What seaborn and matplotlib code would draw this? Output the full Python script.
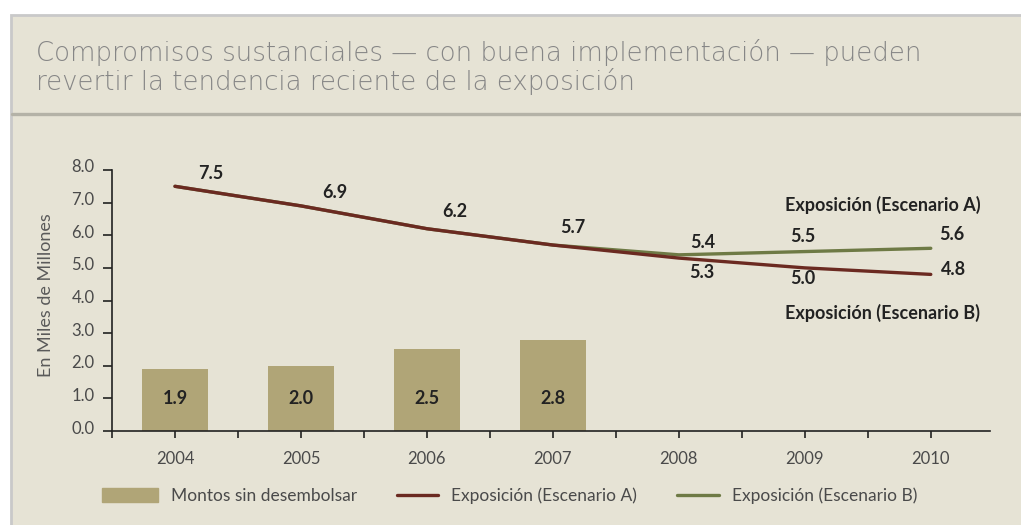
import matplotlib
matplotlib.use("Agg")
import matplotlib.pyplot as plt
import matplotlib.patches as mpatches
import matplotlib.lines as mlines
from matplotlib.legend_handler import HandlerPatch
from matplotlib.transforms import ScaledTranslation
import seaborn as sns
import pandas as pd
import numpy as np

# ---------------- data ----------------
years = ["2004", "2005", "2006", "2007", "2008", "2009", "2010"]
bar_years = ["2004", "2005", "2006", "2007"]
montos = [1.9, 2.0, 2.5, 2.8]
expo_a = [7.5, 6.9, 6.2, 5.7, 5.3, 5.0, 4.8]   # dark red line
expo_b = [7.5, 6.9, 6.2, 5.7, 5.4, 5.5, 5.6]   # green line
y_ticks = [0, 1, 2, 3, 4, 5, 6, 7, 8]

title_l1 = "Compromisos sustanciales — con buena implementación — pueden"
title_l2 = "revertir la tendencia reciente de la exposición"
ylabel = "En Miles de Millones"
legend_labels = ["Montos sin desembolsar", "Exposición (Escenario A)", "Exposición (Escenario B)"]
series_label_top = "Exposición (Escenario A)"
series_label_bottom = "Exposición (Escenario B)"

# label offsets (layout only)
a_off = [(0.28, 0.38), (0.27, 0.40), (0.22, 0.52), (0.16, 0.53), (0.18, -0.45), (-0.02, -0.34), (0.18, 0.14)]
b_off = [None, None, None, None, (0.19, 0.37), (-0.02, 0.45), (0.17, 0.41)]

# ---------------- style ----------------
BG = "#E6E3D5"
BAR = "#B0A577"
RED = "#6B2A21"
GREEN = "#6E7A45"
TXT = "#4A4A4A"

sns.set_theme(style="white")
plt.rcParams["font.family"] = ["Lato", "DejaVu Sans"]

W, H = 1021, 525
fig = plt.figure(figsize=(W / 100, H / 100), dpi=100, facecolor="white")

# panel background with border
panel = mpatches.Rectangle((11 / W, -0.05), 1.05, (H - 15) / H + 0.05,
                           transform=fig.transFigure, facecolor=BG,
                           edgecolor="#C9C9C9", lw=2.0, zorder=-10)
fig.patches.append(panel)
sep = mlines.Line2D([12 / W, 1.0], [(H - 114) / H] * 2, transform=fig.transFigure,
                    color="#B4B2A7", lw=2.4)
fig.lines.append(sep)

for ln, yb in ((title_l1, 61), (title_l2, 90)):
    fig.text(36 / W, (H - yb) / H, ln, fontsize=18.7, color="#868686",
             family=["DejaVu Sans"], fontweight="light", va="baseline", ha="left")

# axes
left, right, bottom, top = 112, 990, 431, 170
ax = fig.add_axes([left / W, (H - bottom) / H, (right - left) / W, (bottom - top) / H])
ax.set_facecolor("none")

df_bar = pd.DataFrame({"year": bar_years, "value": montos})
sns.barplot(data=df_bar, x="year", y="value", order=years, color=BAR,
            width=0.53, saturation=1, linewidth=0, ax=ax, zorder=2)

idx = np.arange(len(years))
df_lines = pd.DataFrame({"x": idx, "a": expo_a, "b": expo_b})
sns.lineplot(data=df_lines, x="x", y="b", color=GREEN, lw=2.4, ax=ax, zorder=3)
sns.lineplot(data=df_lines, x="x", y="a", color=RED, lw=2.4, ax=ax, zorder=4)

ax.set_xlim(-0.5, 6.47)
ax.set_ylim(0, 8)
ax.set_xticks(idx)
ax.set_xticklabels(years)
ax.set_xticks(np.arange(-0.5, 6.0, 1.0), minor=True)
ax.set_yticks(y_ticks)
ax.set_yticklabels([f"{v:.1f}" for v in y_ticks])
ax.set_xlabel("")
ax.set_ylabel(ylabel, fontsize=13, color="#5A5A5A")
ax.yaxis.set_label_coords((54 - left) / (right - left), 0.52)

for s in ["top", "right"]:
    ax.spines[s].set_visible(False)
for s in ["left", "bottom"]:
    ax.spines[s].set_color("#222222")
    ax.spines[s].set_linewidth(1.2)

ax.tick_params(axis="y", which="major", direction="out", length=6.5, width=1.2,
               color="#222222", labelsize=12, labelcolor=TXT, pad=6, left=True)
ax.tick_params(axis="x", which="both", direction="out", length=5, width=1.2,
               color="#222222", bottom=True)
ax.tick_params(axis="x", which="major", labelsize=12, labelcolor=TXT, pad=9.5)
for lab in ax.get_yticklabels():
    lab.set_transform(lab.get_transform() + ScaledTranslation(0, 4 / 100, fig.dpi_scale_trans))

# value labels
lab_kw = dict(fontsize=13, fontweight="bold", color="#222222", ha="center", va="center", zorder=6)
for i, v in enumerate(montos):
    ax.text(i, 1.0, f"{v:.1f}", **lab_kw)
for i, v in enumerate(expo_a):
    dx, dy = a_off[i]
    ax.text(i + dx, v + dy, f"{v:.1f}", **lab_kw)
for i, v in enumerate(expo_b):
    if b_off[i] is None:
        continue
    dx, dy = b_off[i]
    ax.text(i + dx, v + dy, f"{v:.1f}", **lab_kw)
ax.text(5.62, 6.93, series_label_top, **lab_kw)
ax.text(5.62, 3.62, series_label_bottom, **lab_kw)


# legend: wider swatch for the bar entry, shorter handles for lines
def wide_patch(legend, orig_handle, xdescent, ydescent, width, height, fontsize):
    extra = 14 * 72 / 100  # points
    return mpatches.Rectangle((-xdescent - extra, -ydescent), width + extra, height)


handles = [mpatches.Patch(color=BAR),
           mlines.Line2D([], [], color=RED, lw=2.4),
           mlines.Line2D([], [], color=GREEN, lw=2.4)]
leg = fig.legend(handles, legend_labels, loc="center left",
                 bbox_to_anchor=(116 / W, (H - 496) / H), ncol=3, frameon=False,
                 borderaxespad=0, borderpad=0, handlelength=2.4, handleheight=0.85,
                 handletextpad=0.75, columnspacing=2.3,
                 handler_map={mpatches.Patch: HandlerPatch(patch_func=wide_patch)},
                 prop={"family": ["Lato", "DejaVu Sans"], "size": 12.5})
for t in leg.get_texts():
    t.set_color(TXT)

fig.savefig("out.png", dpi=100, facecolor="white")
